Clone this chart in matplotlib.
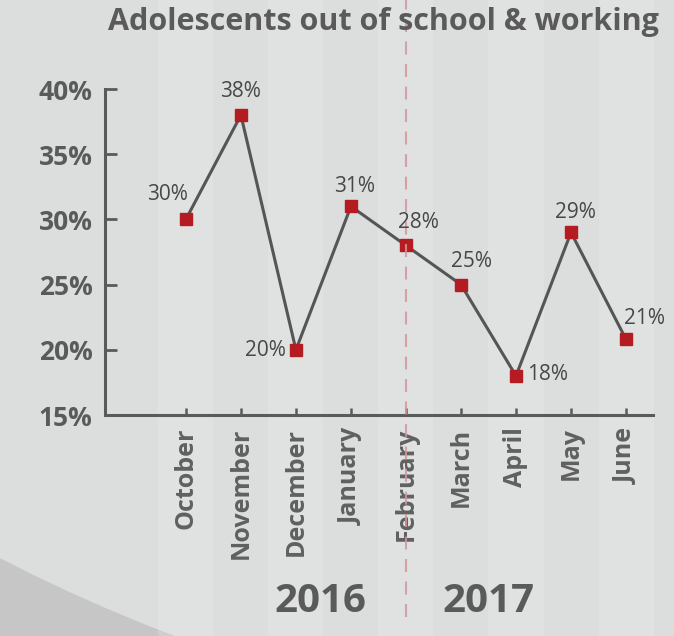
import matplotlib
matplotlib.use('Agg')
import matplotlib.pyplot as plt
from matplotlib.patches import Ellipse
import matplotlib.transforms as mtransforms

# data
months = ['October', 'November', 'December', 'January', 'February',
          'March', 'April', 'May', 'June']
values = [30.0, 38.0, 20.0, 31.0, 28.0, 25.0, 18.0, 29.0, 20.8]
labels = ['30%', '38%', '20%', '31%', '28%', '25%', '18%', '29%', '21%']
yticks = [15, 20, 25, 30, 35, 40]
years = ['2016', '2017']

# label layout (pixel offsets from each marker)
label_offsets = [(-18, 25), (0, 24), (-10, -1), (4, 20), (12, 23),
                 (11, 23), (11, 1), (4, 20), (18, 21)]
label_ha = ['center', 'center', 'right', 'center', 'center',
            'center', 'left', 'center', 'center']

GREY = '#5a5a5a'
RED = '#b51c22'

plt.rcParams['font.family'] = ['Open Sans', 'DejaVu Sans']

fig = plt.figure(figsize=(6.74, 6.36), dpi=100)
fig.patch.set_facecolor('#c6c6c6')

# big light disc, darker corner bottom-left
W, H = 674, 636
R = 1680
disc = Ellipse((770 / W, (H + 935) / H), 2 * R / W, 2 * R / H,
               transform=fig.transFigure, facecolor='#dcdddd',
               edgecolor='none', zorder=-2)
fig.patches.append(disc)

ax = fig.add_axes([105 / W, 221 / H, 548 / W, 326 / H])
ax.patch.set_visible(False)

x = list(range(len(months)))

# vertical stripes over the full height
for i in x:
    if i % 2 == 0:
        ax.axvspan(i - 0.5, i + 0.5, ymin=-1.0, ymax=1.5, color='white',
                   alpha=0.14, lw=0, clip_on=False, zorder=0)

# separator between years
ax.axvline(4, ymin=-0.62, ymax=1.3, color='#d4959b', lw=1.5,
           dashes=(6.2, 4.6), alpha=0.85, clip_on=False, zorder=5)

ax.plot(x, values, color='#555555', lw=2.2, zorder=3)
ax.plot(x, values, ls='none', marker='s', ms=8.6, color=RED,
        mec=RED, zorder=4)

for xi, v, lab, off, ha in zip(x, values, labels, label_offsets, label_ha):
    ax.annotate(lab, (xi, v), xytext=off, textcoords='offset pixels',
                ha=ha, va='center', fontsize=15, color='#474747', zorder=6)

ax.set_xlim(-1.47, 8.49)
ax.set_ylim(15, 40)
ax.set_yticks(yticks)
ax.set_yticklabels(['%d%%' % t for t in yticks], fontsize=19,
                   fontweight='bold', color=GREY)
ax.set_xticks(x)
ax.set_xticklabels(months, rotation=90, fontsize=18, fontweight='bold',
                   color='#606060', va='top', ha='center')

for side in ['top', 'right']:
    ax.spines[side].set_visible(False)
for side in ['left', 'bottom']:
    ax.spines[side].set_color(GREY)
    ax.spines[side].set_linewidth(2.2)

ax.tick_params(axis='y', direction='in', length=8.5, width=2, color=GREY,
               pad=9)
ax.tick_params(axis='x', direction='in', length=5, width=1.8, color=GREY,
               pad=9)

fig.text(383 / W, 1 - 22 / H, 'Adolescents out of school & working',
         ha='center', va='center', fontsize=22, fontweight='bold', color=GREY)

trans = mtransforms.blended_transform_factory(ax.transData, fig.transFigure)
for xpos, yr in zip([2.45, 5.5], years):
    ax.text(xpos, 1 - 601 / H, yr, transform=trans, ha='center', va='center',
            fontsize=29, fontweight='bold', color=GREY)

fig.savefig('out.png', dpi=100, facecolor=fig.get_facecolor())
